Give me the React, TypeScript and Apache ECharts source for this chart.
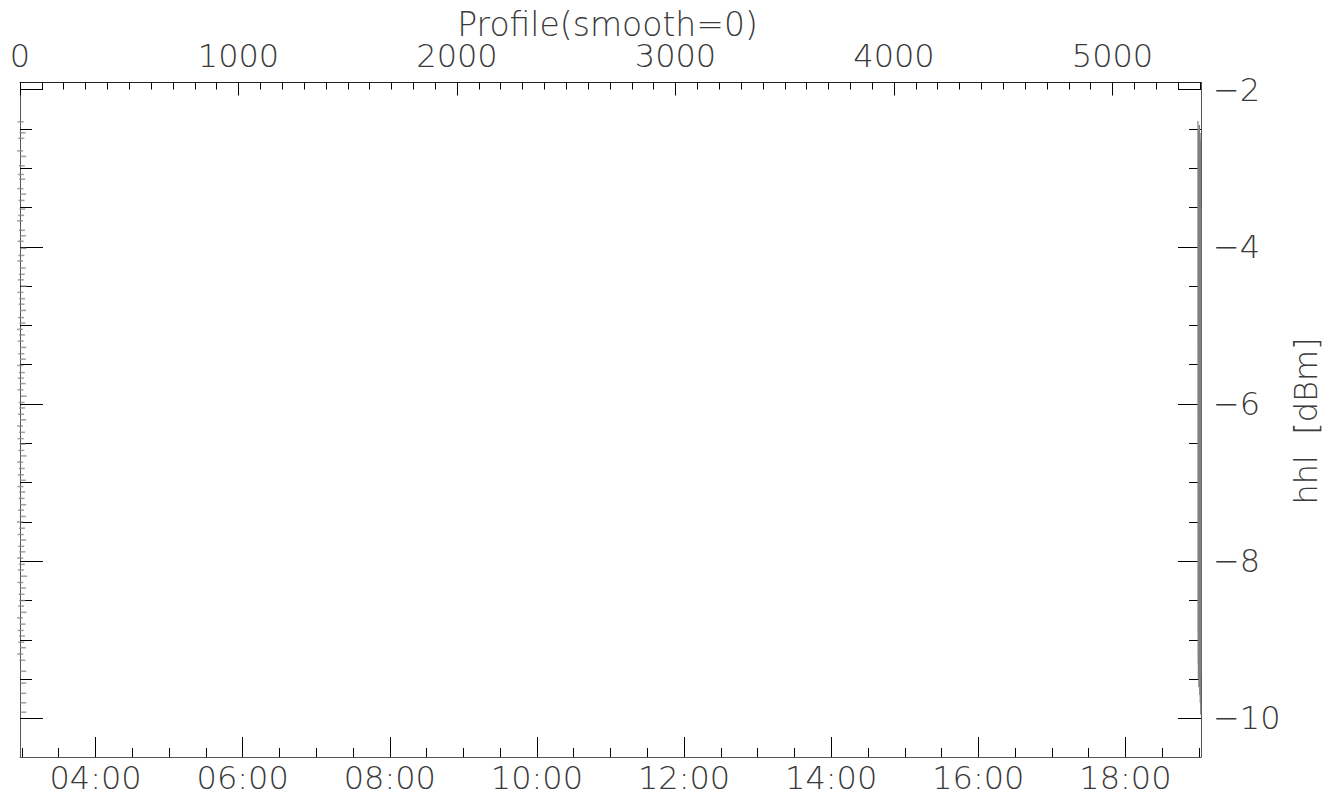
import React, { useEffect, useRef } from "react";
import * as echarts from "echarts";

// ---- axis ticks / labels ----
const timeLabelMinutes = [240, 360, 480, 600, 720, 840, 960, 1080];
const timeMinorMinutes = [180, 210, 270, 300, 330, 390, 420, 450, 510, 540, 570, 630, 660, 690, 750, 780, 810, 870, 900, 930, 990, 1020, 1050, 1110, 1140];
const profileLabels = [0, 1000, 2000, 3000, 4000, 5000];
const profileMinor = [100, 200, 300, 400, 500, 600, 700, 800, 900, 1100, 1200, 1300, 1400, 1500, 1600, 1700, 1800, 1900, 2100, 2200, 2300, 2400, 2500, 2600, 2700, 2800, 2900, 3100, 3200, 3300, 3400, 3500, 3600, 3700, 3800, 3900, 4100, 4200, 4300, 4400, 4500, 4600, 4700, 4800, 4900, 5100, 5200, 5300, 5400];
const dbmLabels = [-10, -8, -6, -4, -2];
const dbmMinor = [-9.5, -9, -8.5, -7.5, -7, -6.5, -5.5, -5, -4.5, -3.5, -3, -2.5];

// ---- data: profile index vs hhl [dBm] ----
const leftProfile = [3, 12, 6, 1, 15, 8, 4, 10, 2, 14, 7, 11, 5, 0, 9, 13, 3, 16, 6, 1, 12, 8, 4, 18, 2, 10, 7, 14, 5, 11, 0, 9, 3, 15, 6, 13, 1, 8, 4, 12, 2, 17, 7, 10, 5, 14, 0, 9, 3, 11, 6, 16, 1, 8, 4, 13, 2, 10, 7, 15, 5, 12, 0, 9, 3, 14, 6, 11, 1, 8, 4, 19, 2, 13, 7, 10, 5, 16, 0, 12, 3, 9, 6, 14, 1, 11, 15, 15, 15, 15, 15];
const leftValue = [-2.41, -2.55, -2.62, -2.78, -2.85, -2.97, -3.08, -3.14, -3.26, -3.33, -3.41, -3.52, -3.6, -3.67, -3.79, -3.86, -3.93, -4.02, -4.11, -4.18, -4.27, -4.35, -4.42, -4.5, -4.58, -4.66, -4.73, -4.81, -4.9, -4.97, -5.05, -5.12, -5.2, -5.28, -5.36, -5.43, -5.51, -5.6, -5.67, -5.74, -5.82, -5.9, -5.98, -6.05, -6.13, -6.2, -6.28, -6.36, -6.44, -6.51, -6.59, -6.66, -6.74, -6.82, -6.9, -6.97, -7.05, -7.12, -7.2, -7.28, -7.35, -7.43, -7.5, -7.58, -7.66, -7.73, -7.81, -7.88, -7.96, -8.04, -8.11, -8.19, -8.27, -8.34, -8.42, -8.5, -8.57, -8.65, -8.72, -8.8, -8.88, -8.95, -9.03, -9.1, -9.18, -9.26, -9.4, -9.55, -9.68, -9.8, -9.92];

const rightProfile = [5391.0, 5391.3, 5391.6, 5391.8, 5392.1, 5392.4, 5392.7, 5393.0, 5393.2, 5393.5, 5393.8, 5394.1, 5394.4, 5394.6, 5394.9, 5395.2, 5395.5, 5395.8, 5396.0, 5396.3, 5396.6, 5396.9, 5397.2, 5397.4, 5397.7, 5398.0, 5398.3, 5398.6, 5398.8, 5399.1, 5399.4, 5399.7, 5400.0, 5400.2, 5400.5, 5400.8, 5401.1, 5401.4, 5401.6, 5401.9, 5402.2, 5402.5, 5402.8, 5403.0, 5403.3, 5403.6, 5403.9, 5404.2, 5404.4, 5404.7];
const rightValue = [-2.4, -8.9, -3.1, -9.3, -2.6, -7.8, -4.2, -9.5, -2.9, -8.4, -3.6, -9.1, -2.5, -6.9, -5.0, -9.6, -3.3, -8.7, -2.7, -7.5, -4.6, -9.4, -3.0, -8.1, -2.45, -9.2, -3.8, -7.2, -5.6, -9.7, -2.8, -8.6, -3.4, -9.0, -4.0, -8.3, -2.55, -9.8, -3.2, -7.9, -6.1, -9.35, -2.65, -8.8, -3.9, -9.95, -5.2, -8.5, -3.5, -9.45];

const FONT = "DejaVu Sans";
const FW = 200;
const FS = 32;
const TXT = "#3a3a3a";
const AXIS = "#555";

const fmtTime = (v: number) => {
  const h = Math.floor(v / 60);
  const m = Math.round(v - h * 60);
  return String(h).padStart(2, "0") + ":" + String(m).padStart(2, "0");
};

export default function App() {
  const ref = useRef<HTMLDivElement>(null);
  useEffect(() => {
    const chart = echarts.init(ref.current!, null, { renderer: "svg" });
    const labelStyle = { fontFamily: FONT, fontSize: FS, fontWeight: FW as any, color: TXT, lineHeight: 22 };
    const noLine = { show: false, onZero: false };
    const xBase = (min: number, max: number, pos: string) => ({ type: "value", position: pos, min, max, splitLine: { show: false } });
    const yBase = (pos: string) => ({ type: "value", position: pos, min: -10.49, max: -1.91, splitLine: { show: false } });
    chart.setOption({
      animation: false,
      backgroundColor: "#fff",
      grid: { left: 20, right: 139, top: 82.5, bottom: 40 },
      graphic: [
        {
          type: "text",
          x: 607.5,
          y: 24,
          style: { text: "Profile(smooth=0)", font: `${FW} 33px "${FONT}"`, fill: TXT, align: "center", verticalAlign: "middle", lineHeight: 24 },
        },
        {
          type: "text",
          x: 1306,
          y: 421,
          rotation: Math.PI / 2,
          style: { text: "hhl  [dBm]", font: `${FW} ${FS}px "${FONT}"`, fill: TXT, align: "center", verticalAlign: "middle" },
        },
      ],
      xAxis: [
        {
          ...xBase(178.4, 1141.6, "bottom"),
          axisLine: { show: true, onZero: false, lineStyle: { color: AXIS, width: 1 } },
          axisTick: { show: true, inside: true, length: 20, customValues: timeLabelMinutes, lineStyle: { color: "#000" } },
          axisLabel: { ...labelStyle, customValues: timeLabelMinutes, formatter: fmtTime, margin: 10 },
        },
        {
          ...xBase(178.4, 1141.6, "bottom"),
          axisLine: noLine,
          axisTick: { show: true, inside: true, length: 9, customValues: timeMinorMinutes, lineStyle: { color: "#000" } },
          axisLabel: { show: false },
        },
        {
          ...xBase(0, 5405, "top"),
          axisLine: { show: true, onZero: false, lineStyle: { color: "#222", width: 1 } },
          axisTick: { show: true, inside: true, length: 13, customValues: profileLabels, lineStyle: { color: "#000" } },
          axisLabel: { ...labelStyle, customValues: profileLabels, margin: 16, formatter: (v: number) => String(v) },
        },
        {
          ...xBase(0, 5405, "top"),
          axisLine: noLine,
          axisTick: { show: true, inside: true, length: 7, customValues: profileMinor, lineStyle: { color: "#000" } },
          axisLabel: { show: false },
        },
      ],
      yAxis: [
        {
          ...yBase("right"),
          axisLine: { show: true, onZero: false, lineStyle: { color: AXIS, width: 1 } },
          axisTick: { show: true, inside: true, length: 23, customValues: dbmLabels, lineStyle: { color: "#000" } },
          axisLabel: { ...labelStyle, customValues: dbmLabels, margin: 12, formatter: (v: number) => (v < 0 ? "\u2212" + Math.abs(v) : String(v)) },
        },
        {
          ...yBase("right"),
          axisLine: noLine,
          axisTick: { show: true, inside: true, length: 12, customValues: dbmMinor, lineStyle: { color: "#000" } },
          axisLabel: { show: false },
        },
        {
          ...yBase("left"),
          axisLine: { show: true, onZero: false, lineStyle: { color: AXIS, width: 1 } },
          axisTick: { show: true, inside: true, length: 23, customValues: dbmLabels, lineStyle: { color: "#000" } },
          axisLabel: { show: false },
        },
        {
          ...yBase("left"),
          axisLine: noLine,
          axisTick: { show: true, inside: true, length: 12, customValues: dbmMinor, lineStyle: { color: "#000" } },
          axisLabel: { show: false },
        },
      ],
      series: [
        {
          type: "scatter",
          xAxisIndex: 2,
          yAxisIndex: 0,
          symbol: "rect",
          symbolSize: [6, 1.5],
          itemStyle: { color: "#888" },
          data: leftProfile.map((p, i) => [p, leftValue[i]]),
        },
        {
          type: "line",
          xAxisIndex: 2,
          yAxisIndex: 0,
          symbol: "none",
          lineStyle: { color: "#808080", width: 1.2 },
          data: rightProfile.map((p, i) => [p, rightValue[i]]),
        },
      ],
    });
    return () => chart.dispose();
  }, []);
  return <div ref={ref} style={{ position: "absolute", left: 0, top: 0, width: 1340, height: 797, background: "#fff" }} />;
}
